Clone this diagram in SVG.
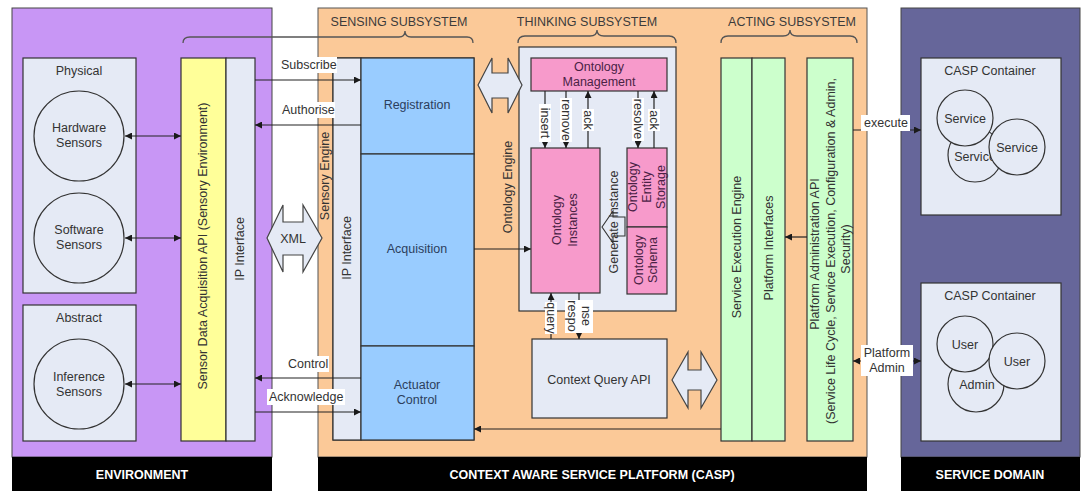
<svg xmlns="http://www.w3.org/2000/svg" width="1082" height="491" viewBox="0 0 1082 491">
  <defs>
    <marker id="ah" viewBox="0 0 10 10" refX="10" refY="5" markerWidth="8" markerHeight="7" markerUnits="userSpaceOnUse" orient="auto-start-reverse">
      <path d="M0,0 L10,5 L0,10 z" fill="#1a1a1a"/>
    </marker>
  </defs>
  <style>
    text { font-family: "Liberation Sans", Arial, sans-serif; font-size: 12.5px; fill: #333; }
    .c { text-anchor: middle; }
    .bar { fill: #000; }
    .bart { font-weight: bold; fill: #fff; text-anchor: middle; }
    .hdr { fill: #3b3b3b; text-anchor: middle; }
    .box { fill: #e5eaf5; stroke: #333; stroke-width: 1.2; }
    .yel { fill: #ffff99; stroke: #333; stroke-width: 1.2; }
    .blu { fill: #99ccff; stroke: #333; stroke-width: 1.2; }
    .grn { fill: #ccffcc; stroke: #333; stroke-width: 1.2; }
    .pnk { fill: #f79acb; stroke: #333; stroke-width: 1.2; }
    .bt { fill: #2c3e5c; }
    .pt { fill: #4a2245; }
    .ln { fill: none; stroke: #222; stroke-width: 1.2; }
    .brace { fill: none; stroke: #555; stroke-width: 1.3; }
    .lbl { fill: #fff; }
    .dbl { fill: #e5eaf5; stroke: #444; stroke-width: 1.2; }
  </style>

  <rect width="1082" height="491" fill="#fff"/>

  <!-- Environment panel -->
  <g id="environment">
    <rect x="12" y="8" width="260" height="449" fill="#c896f5" stroke="#444" stroke-width="1"/>
    <rect class="bar" x="12" y="457" width="260" height="34"/>
    <text class="bart" x="142" y="479">ENVIRONMENT</text>
  </g>

  <!-- CASP panel -->
  <g id="casp">
    <rect x="318" y="8" width="549" height="449" fill="#fbc998" stroke="#555" stroke-width="1"/>
    <rect class="bar" x="318" y="457" width="549" height="34"/>
    <text class="bart" x="592" y="479">CONTEXT AWARE SERVICE PLATFORM (CASP)</text>
  </g>

  <!-- Service domain panel -->
  <g id="service-domain">
    <rect x="901" y="8" width="179" height="449" fill="#66669a" stroke="#444" stroke-width="1"/>
    <rect class="bar" x="901" y="457" width="179" height="34"/>
    <text class="bart" x="990" y="479">SERVICE DOMAIN</text>
  </g>

  <!-- Subsystem headings and braces -->
  <g id="headings">
    <text class="hdr" x="399" y="26">SENSING SUBSYSTEM</text>
    <path class="brace" d="M183,43 Q183,37 190,37 H399 Q405,37 405,31 Q405,37 411,37 H467 Q473,37 473,43"/>
    <text class="hdr" x="587" y="26">THINKING SUBSYSTEM</text>
    <path class="brace" d="M518,43 Q518,36 525,36 H590 Q597,36 597,30 Q597,36 604,36 H669 Q676,36 676,43"/>
    <text class="hdr" x="792" y="26">ACTING SUBSYSTEM</text>
    <path class="brace" d="M721,43 Q721,36 728,36 H783 Q790,36 790,30 Q790,36 797,36 H850 Q857,36 857,43"/>
  </g>

  <!-- Sensor sources -->
  <g id="physical">
    <rect class="box" x="23" y="58" width="113" height="235"/>
    <text class="c" x="79" y="75">Physical</text>
  </g>
  <g id="hardware-sensors">
    <circle class="box" cx="79" cy="136" r="45"/>
    <text class="c" x="79" y="132">Hardware</text>
    <text class="c" x="79" y="147">Sensors</text>
  </g>
  <g id="software-sensors">
    <circle class="box" cx="79" cy="238" r="45"/>
    <text class="c" x="79" y="234">Software</text>
    <text class="c" x="79" y="249">Sensors</text>
  </g>
  <g id="abstract">
    <rect class="box" x="23" y="305" width="113" height="136"/>
    <text class="c" x="79" y="322">Abstract</text>
  </g>
  <g id="inference-sensors">
    <circle class="box" cx="79" cy="384" r="45"/>
    <text class="c" x="79" y="381">Inference</text>
    <text class="c" x="79" y="396">Sensors</text>
  </g>

  <!-- Sensor data acquisition API and its IP interface -->
  <g id="sensor-api">
    <rect class="yel" x="181" y="58" width="45" height="383"/>
    <text class="c" transform="translate(203,246) rotate(-90)" dy="0.35em">Sensor Data Acquisition API (Sensory Environment)</text>
  </g>
  <g id="env-ip-interface">
    <rect class="box" x="226" y="58" width="29" height="383"/>
    <text class="c" transform="translate(240,249) rotate(-90)" dy="0.35em">IP Interface</text>
  </g>

  <!-- Sensory engine -->
  <g id="sensory-engine">
    <rect fill="none" stroke="#333" stroke-width="1.2" x="333" y="58" width="141" height="382"/>
    <text class="c" transform="translate(325,176) rotate(-90)" dy="0.35em">Sensory Engine</text>
    <rect class="box" x="333" y="58" width="28" height="382"/>
    <text class="c" transform="translate(347,248) rotate(-90)" dy="0.35em">IP Interface</text>
  </g>
  <g id="registration">
    <rect class="blu" x="361" y="58" width="113" height="96"/>
    <text class="c bt" x="417" y="109">Registration</text>
  </g>
  <g id="acquisition">
    <rect class="blu" x="361" y="154" width="113" height="192"/>
    <text class="c bt" x="417" y="253">Acquisition</text>
  </g>
  <g id="actuator-control">
    <rect class="blu" x="361" y="346" width="113" height="94"/>
    <text class="c bt" x="417" y="389">Actuator</text>
    <text class="c bt" x="417" y="404">Control</text>
  </g>

  <!-- XML exchange -->
  <g id="xml-exchange">
    <polygon class="dbl" points="267,238 283,205 283,222 303,222 303,205 322,238 303,272 303,255 283,255 283,272"/>
    <text class="c" x="293" y="243">XML</text>
  </g>

  <!-- Ontology engine -->
  <g id="ontology-engine">
    <rect class="box" x="519" y="47" width="157" height="264"/>
    <text class="c" transform="translate(508,187) rotate(-90)" dy="0.35em">Ontology Engine</text>
  </g>
  <g id="ontology-management">
    <rect class="pnk" x="531" y="58" width="136" height="33"/>
    <text class="c pt" x="599" y="71">Ontology</text>
    <text class="c pt" x="599" y="86">Management</text>
  </g>
  <g id="ontology-instances">
    <rect class="pnk" x="531" y="148" width="69" height="145"/>
    <text class="c pt" transform="translate(557,220) rotate(-90)" dy="0.35em">Ontology</text>
    <text class="c pt" transform="translate(573,220) rotate(-90)" dy="0.35em">Instances</text>
  </g>
  <g id="ontology-entity-storage">
    <rect class="pnk" x="627" y="148" width="40" height="79"/>
    <text class="c pt" transform="translate(633,187) rotate(-90)" dy="0.35em">Ontology</text>
    <text class="c pt" transform="translate(647,187) rotate(-90)" dy="0.35em">Entity</text>
    <text class="c pt" transform="translate(661,187) rotate(-90)" dy="0.35em">Storage</text>
  </g>
  <g id="ontology-schema">
    <rect class="pnk" x="627" y="227" width="40" height="67"/>
    <text class="c pt" transform="translate(639,260) rotate(-90)" dy="0.35em">Ontology</text>
    <text class="c pt" transform="translate(653,260) rotate(-90)" dy="0.35em">Schema</text>
  </g>
  <g id="generate-instance">
    <polygon fill="#e5eaf5" stroke="#333" stroke-width="1.1" points="602,227 613,211 613,217 625,217 625,236 613,236 613,243"/>
    <text class="c" transform="translate(614,222) rotate(-90)" dy="0.35em">Generate Instance</text>
  </g>

  <!-- Registration to ontology engine exchange -->
  <g id="ontology-exchange">
    <polygon class="dbl" points="478,85 492,58 492,73 508,73 508,58 522,85 508,113 508,98 492,98 492,113"/>
  </g>

  <g id="context-query-api">
    <rect class="box" x="532" y="339" width="135" height="79"/>
    <text class="c" x="599" y="384">Context Query API</text>
  </g>
  <g id="query-exchange">
    <polygon class="dbl" points="672,380 688,352 688,370 701,370 701,352 717,380 701,408 701,390 688,390 688,408"/>
  </g>

  <!-- Acting subsystem -->
  <g id="service-execution-engine">
    <rect class="grn" x="721" y="58" width="31" height="383"/>
    <text class="c" transform="translate(737,247) rotate(-90)" dy="0.35em">Service Execution Engine</text>
  </g>
  <g id="platform-interfaces">
    <rect class="grn" x="752" y="58" width="33" height="383"/>
    <text class="c" transform="translate(769,248) rotate(-90)" dy="0.35em">Platform Interfaces</text>
  </g>
  <g id="platform-admin-api">
    <rect class="grn" x="807" y="58" width="46" height="383"/>
    <text class="c" transform="translate(815,254) rotate(-90)" dy="0.35em">Platform Administration API</text>
    <text class="c" transform="translate(831,251) rotate(-90)" dy="0.35em">(Service Life Cycle, Service Execution, Configuration &amp; Admin,</text>
    <text class="c" transform="translate(846,249) rotate(-90)" dy="0.35em">Security)</text>
  </g>

  <!-- CASP containers -->
  <g id="casp-container-services">
    <rect class="box" x="921" y="58" width="140" height="157"/>
    <text class="c" x="990" y="75">CASP Container</text>
    <circle class="box" cx="975" cy="155" r="27"/>
    <text class="c" x="975" y="161">Service</text>
    <circle class="box" cx="965" cy="118" r="28"/>
    <text class="c" x="965" y="123">Service</text>
    <circle class="box" cx="1017" cy="147" r="28"/>
    <text class="c" x="1017" y="152">Service</text>
  </g>
  <g id="casp-container-users">
    <rect class="box" x="921" y="283" width="140" height="158"/>
    <text class="c" x="990" y="300">CASP Container</text>
    <circle class="box" cx="976" cy="384" r="28"/>
    <circle class="box" cx="965" cy="344" r="28"/>
    <text class="c" x="965" y="349">User</text>
    <circle class="box" cx="1017" cy="361" r="28"/>
    <text class="c" x="1017" y="366">User</text>
    <text class="c" x="977" y="389">Admin</text>
  </g>

  <!-- Connectors -->
  <g id="connectors">
    <path class="ln" d="M125,136 H181" marker-start="url(#ah)" marker-end="url(#ah)"/>
    <path class="ln" d="M125,238 H181" marker-start="url(#ah)" marker-end="url(#ah)"/>
    <path class="ln" d="M125,384 H181" marker-start="url(#ah)" marker-end="url(#ah)"/>

    <path class="ln" d="M255,80 H361" marker-end="url(#ah)"/>
    <path class="ln" d="M361,125 H255" marker-end="url(#ah)"/>
    <path class="ln" d="M361,378 H255" marker-end="url(#ah)"/>
    <path class="ln" d="M255,412 H361" marker-end="url(#ah)"/>

    <path class="ln" d="M474,249 H531" marker-end="url(#ah)"/>

    <path class="ln" d="M545,91 V148" marker-end="url(#ah)"/>
    <path class="ln" d="M566,91 V148" marker-end="url(#ah)"/>
    <path class="ln" d="M588,148 V91" marker-end="url(#ah)"/>
    <path class="ln" d="M638,91 V148" marker-end="url(#ah)"/>
    <path class="ln" d="M654,148 V91" marker-end="url(#ah)"/>

    <path class="ln" d="M551,339 V293" marker-end="url(#ah)"/>
    <path class="ln" d="M579,293 V339" marker-end="url(#ah)"/>

    <path class="ln" d="M807,237 H785" marker-end="url(#ah)"/>
    <path class="ln" d="M721,429 H474" marker-end="url(#ah)"/>

    <path class="ln" d="M853,130 H921" marker-end="url(#ah)"/>
    <path class="ln" d="M853,361 H921" marker-start="url(#ah)" marker-end="url(#ah)"/>

    <!-- connector labels -->
    <rect class="lbl" x="278" y="57" width="59" height="16"/>
    <text x="281" y="69">Subscribe</text>
    <rect class="lbl" x="279" y="102" width="56" height="16"/>
    <text x="282" y="114">Authorise</text>
    <rect class="lbl" x="285" y="356" width="44" height="16"/>
    <text x="288" y="368">Control</text>
    <rect class="lbl" x="267" y="389" width="78" height="16"/>
    <text x="269" y="401">Acknowledge</text>

    <rect class="lbl" x="539" y="104" width="12" height="38"/>
    <text class="c" transform="translate(545,123) rotate(90)" dy="0.35em">insert</text>
    <rect class="lbl" x="560" y="98" width="12" height="44"/>
    <text class="c" transform="translate(566,120) rotate(90)" dy="0.35em">remove</text>
    <rect class="lbl" x="582" y="109" width="12" height="22"/>
    <text class="c" transform="translate(588,120) rotate(90)" dy="0.35em">ack</text>
    <rect class="lbl" x="632" y="98" width="12" height="43"/>
    <text class="c" transform="translate(638,119) rotate(90)" dy="0.35em">resolve</text>
    <rect class="lbl" x="648" y="109" width="12" height="22"/>
    <text class="c" transform="translate(654,120) rotate(90)" dy="0.35em">ack</text>

    <rect class="lbl" x="545" y="302" width="12" height="32"/>
    <text class="c" transform="translate(551,318) rotate(90)" dy="0.35em">query</text>
    <rect class="lbl" x="565" y="300" width="28" height="33"/>
    <text class="c" transform="translate(572,316) rotate(90)" dy="0.35em">respo</text>
    <text class="c" transform="translate(586,316) rotate(90)" dy="0.35em">nse</text>

    <rect class="lbl" x="861" y="115" width="49" height="16"/>
    <text class="c" x="886" y="127">execute</text>
    <rect class="lbl" x="861" y="345" width="52" height="31"/>
    <text class="c" x="887" y="357">Platform</text>
    <text class="c" x="887" y="372">Admin</text>
  </g>
</svg>
